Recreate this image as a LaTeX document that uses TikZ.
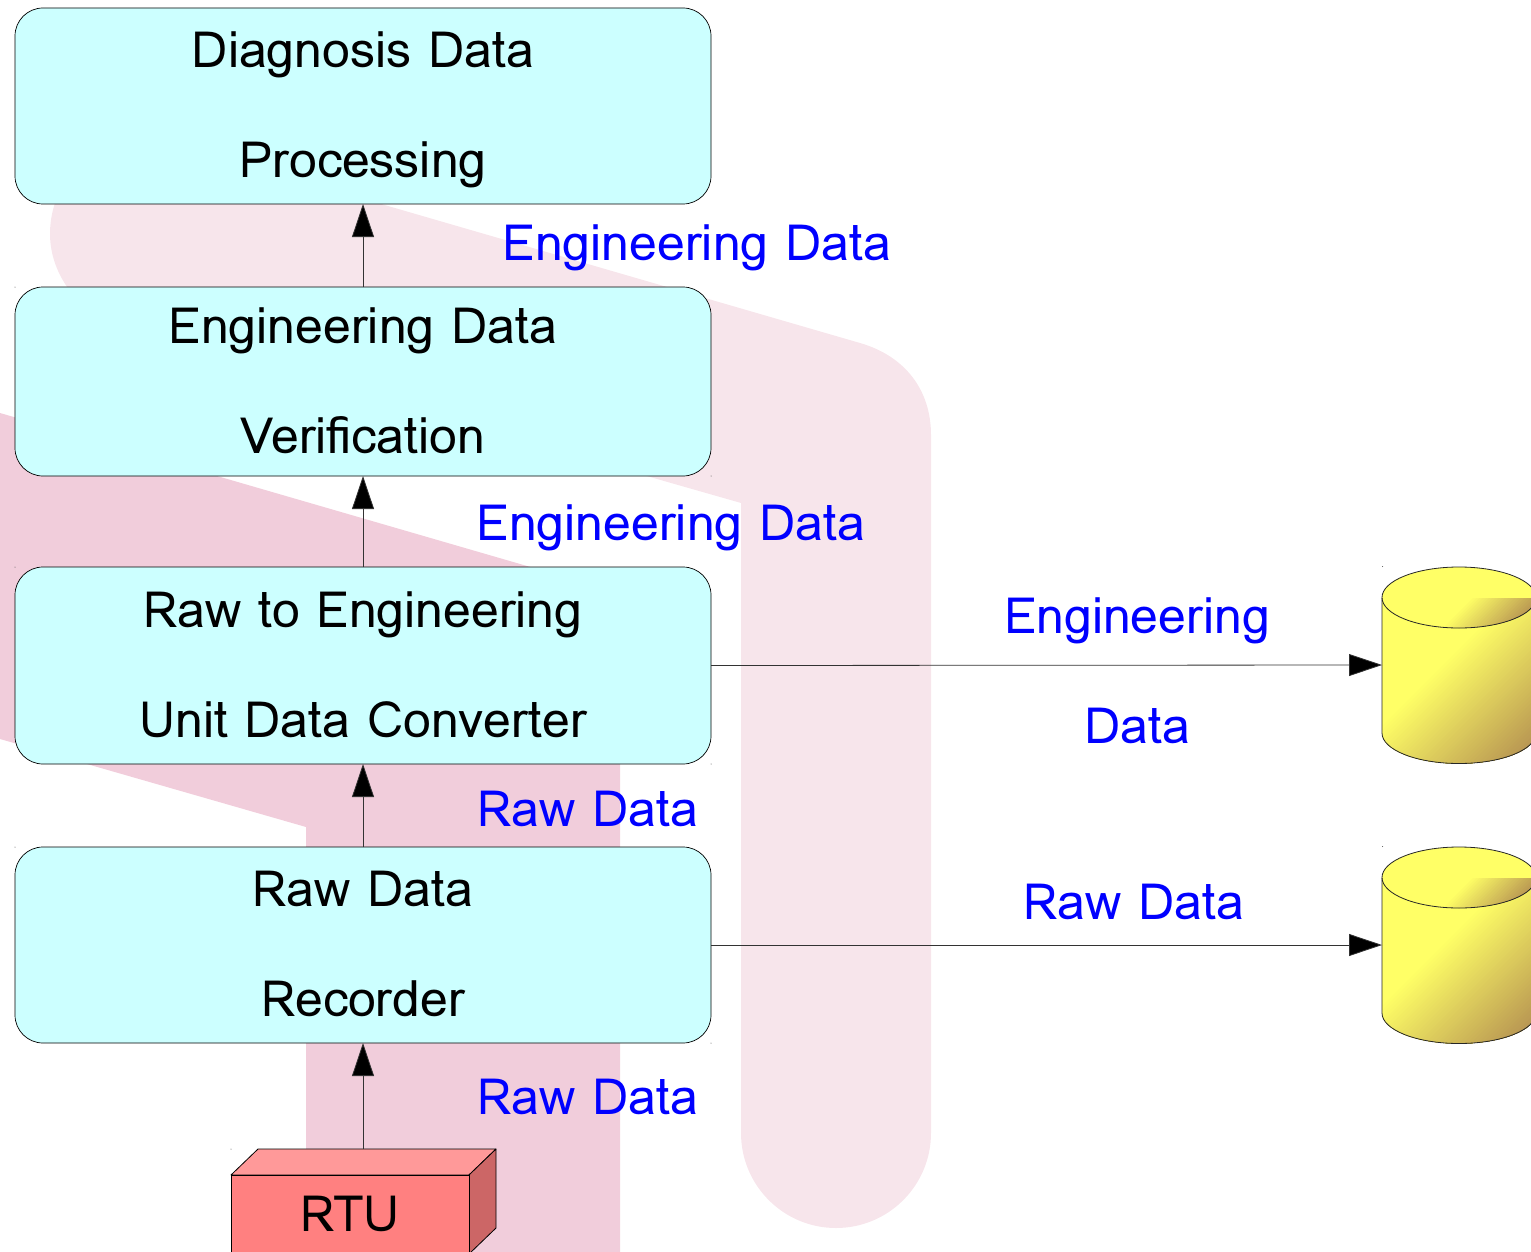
\documentclass[tikz,border=0pt]{standalone}
\usepackage{fontspec}
\setmainfont{Loma}
\usetikzlibrary{arrows.meta}
\definecolor{boxfill}{HTML}{CCFFFF}
\definecolor{bglight}{HTML}{F7E5EB}
\definecolor{bgdark}{HTML}{F1CDDB}
\definecolor{dbyellow}{HTML}{FFFF66}
\definecolor{dbbrown}{HTML}{B08A50}
\definecolor{lineclr}{HTML}{333333}
\definecolor{rtufront}{HTML}{FF8080}
\definecolor{rtutop}{HTML}{FF9999}
\definecolor{rtuside}{HTML}{CC6666}
\tikzset{
  procbox/.style={draw=black,line width=0.7pt,fill=boxfill,rounded corners=28pt,minimum width=696pt,inner sep=0pt,outer sep=0pt},
  boxtext/.style={font=\fontsize{50}{110}\selectfont,align=center,inner sep=0pt,text depth=0pt,anchor=south,text=black},
  flowlabel/.style={font=\fontsize{50}{110}\selectfont,align=center,inner sep=0pt,text depth=0pt,anchor=south,text=blue},
  flow/.style={draw=lineclr,line width=0.8pt,-{Triangle[length=33pt,width=22pt,fill=black]}},
  dbline/.style={draw=black!85,line width=0.8pt},
  rtuline/.style={draw=black,line width=0.8pt,line join=round}
}
\newcommand{\dbcyl}[1]{%
  \begin{scope}[shift={(0,#1)}]
    \begin{scope}
      \clip (1382,598) -- (1382,733) arc[start angle=180,end angle=360,x radius=77pt,y radius=30.5pt] -- (1536,598) arc[start angle=0,end angle=180,x radius=77pt,y radius=30.5pt] -- cycle;
      \fill[dbyellow] (1370,560) rectangle (1540,770);
      \foreach \i in {0,2,...,100} {
        \pgfmathsetmacro{\ss}{2105+1.9*\i}
        \fill[dbbrown!\i!dbyellow] (1300,\ss-1300) -- (1600,\ss-1600) -- (1600,800) -- (1300,800) -- cycle;
      }
    \end{scope}
    \begin{scope}
      \clip (1459,597.5) ellipse[x radius=77pt,y radius=30.5pt];
      \fill[dbyellow] (1370,560) rectangle (1540,640);
      \clip (1370,598) rectangle (1540,640);
      \foreach \i in {0,4,...,100} {
        \pgfmathsetmacro{\ss}{2068+0.8*\i}
        \fill[dbbrown!\i!dbyellow] (1300,\ss-1300) -- (1600,\ss-1600) -- (1600,800) -- (1300,800) -- cycle;
      }
    \end{scope}
    \draw[dbline] (1382,598) -- (1382,733) arc[start angle=180,end angle=360,x radius=77pt,y radius=30.5pt] -- (1536,598);
    \draw[dbline] (1459,597.5) ellipse[x radius=77pt,y radius=30.5pt];
    \fill[black!70] (1382.5,566.5) circle[radius=0.5pt];
  \end{scope}}
\begin{document}
\begin{tikzpicture}[x=1pt,y=-1pt]
\clip (0,0) rectangle (1531,1252);
% watermark
\fill[bglight] (171,143) -- (860,343) .. controls (905,356) and (931,390) .. (931,435) -- (931,1133)
  arc[start angle=0,end angle=-180,radius=95pt] -- (741,503) -- (119,325)
  .. controls (80,314) and (50,275) .. (50,234) .. controls (50,170) and (110,125) .. cycle;
\fill[bgdark] (0,413) -- (620,593) -- (620,1260) -- (306,1260) -- (306,827) -- (0,739) -- cycle;
% boxes
\node[procbox,minimum height=196pt] (diag) at (363,106) {};
\node[procbox,minimum height=189pt] (verif) at (363,381.5) {};
\node[procbox,minimum height=197pt] (conv) at (363,665.5) {};
\node[procbox,minimum height=196pt] (rec) at (363,945) {};
\node[boxtext] (diagt) at (363,178) {Diagnosis Data\\Processing};
\node[boxtext] (verift) at (363,454) {Engineering Data\\Verification};
\node[boxtext] (convt) at (363,738) {Raw to Engineering\\Unit Data Converter};
\node[boxtext] (rect) at (363,1017) {Raw Data\\Recorder};
% RTU
\fill[rtutop,rtuline] (231,1175) -- (258,1149) -- (496,1149) -- (469,1175) -- cycle;
\fill[rtuside,rtuline] (469,1175) -- (496,1149) -- (496,1228) -- (469,1254) -- cycle;
\node[draw=black,line width=0.8pt,fill=rtufront,minimum width=238pt,minimum height=100pt,inner sep=0pt,outer sep=0pt] (rtu) at (350,1225) {};
\node[boxtext] (rtut) at (350,1232) {RTU};
\coordinate (rtutopc) at (363,1149);
% databases
\dbcyl{0}
\dbcyl{280}
\coordinate (dbe) at (1382,665);
\coordinate (dbr) at (1382,945);
% connectors
\draw[flow] (rtutopc) -- (rec.south -| rtutopc);
\draw[flow] (rec.north) -- (conv.south);
\draw[flow] (conv.north) -- (verif.south);
\draw[flow] (verif.north) -- (diag.south);
\draw[flow] (conv.east) -- (dbe);
\draw[flow] (rec.east) -- (dbr);
% labels
\node[flowlabel] (l1) at (697,261) {Engineering Data};
\node[flowlabel] (l2) at (671,541) {Engineering Data};
\node[flowlabel] (l3) at (1137,744) {Engineering\\Data};
\node[flowlabel] (l4) at (588,827) {Raw Data};
\node[flowlabel] (l5) at (1134,920) {Raw Data};
\node[flowlabel] (l6) at (588,1115) {Raw Data};
% handles
\foreach \hx/\hy in {15/287,711/476,711/764,15/847,711/1043,231/1149,15/567}
  \fill[black!70] (\hx,\hy) circle[radius=0.5pt];
\end{tikzpicture}
\end{document}
